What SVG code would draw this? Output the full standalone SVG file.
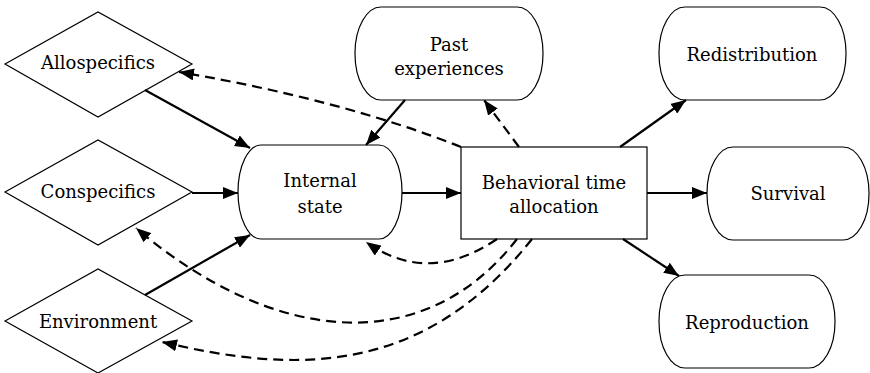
<svg xmlns="http://www.w3.org/2000/svg" width="870" height="373" viewBox="0 0 870 373">
<style>
.n{fill:#fff;stroke:#000;stroke-width:1.2}
.t{font-family:'DejaVu Serif',serif;font-size:18px;text-anchor:middle;fill:#000}
.c{fill:none;stroke:#000;stroke-width:2.2}
.d{fill:none;stroke:#000;stroke-width:2.2;stroke-dasharray:10,6}
</style>
<defs>
<marker id="ah" markerUnits="userSpaceOnUse" markerWidth="16" markerHeight="12" refX="15" refY="6" orient="auto">
<path d="M0,0 L15,6 L0,12 z" fill="#000"/>
</marker>
</defs>
<g id="allospecifics"><polygon class="n" points="5,64 98,12 192,64 98,117"/><text class="t" x="98" y="69">Allospecifics</text></g>
<g id="conspecifics"><polygon class="n" points="5,192 98,140 192,192 98,245"/><text class="t" x="98" y="198">Conspecifics</text></g>
<g id="environment"><polygon class="n" points="5,321 98,269 192,321 98,373"/><text class="t" x="98" y="328">Environment</text></g>
<g id="internal"><rect class="n" x="238" y="145" width="164" height="94" rx="23" ry="47"/><text class="t" x="320" y="187">Internal</text><text class="t" x="320" y="213">state</text></g>
<g id="past"><rect class="n" x="355" y="7" width="188" height="93" rx="26" ry="46"/><text class="t" x="449" y="51">Past</text><text class="t" x="449" y="75">experiences</text></g>
<g id="behavior"><rect class="n" x="461" y="147" width="186" height="92"/><text class="t" x="554" y="189">Behavioral time</text><text class="t" x="554" y="213">allocation</text></g>
<g id="redistribution"><rect class="n" x="659" y="7" width="187" height="93" rx="26" ry="46"/><text class="t" x="752" y="61">Redistribution</text></g>
<g id="survival"><rect class="n" x="707" y="147" width="162" height="93" rx="26" ry="46"/><text class="t" x="788" y="200">Survival</text></g>
<g id="reproduction"><rect class="n" x="659" y="275" width="176" height="93" rx="26" ry="46"/><text class="t" x="747" y="329">Reproduction</text></g>
<g id="connectors">
<line class="c" x1="145" y1="90" x2="250" y2="148" marker-end="url(#ah)"/>
<line class="c" x1="192" y1="193" x2="238" y2="193" marker-end="url(#ah)"/>
<line class="c" x1="145" y1="295" x2="250" y2="235" marker-end="url(#ah)"/>
<line class="c" x1="405" y1="100" x2="366" y2="145" marker-end="url(#ah)"/>
<line class="c" x1="402" y1="193" x2="461" y2="193" marker-end="url(#ah)"/>
<line class="c" x1="620" y1="147" x2="686" y2="100" marker-end="url(#ah)"/>
<line class="c" x1="647" y1="193" x2="707" y2="193" marker-end="url(#ah)"/>
<line class="c" x1="623" y1="239" x2="679" y2="276" marker-end="url(#ah)"/>
<line class="d" x1="519" y1="147" x2="484" y2="100" marker-end="url(#ah)"/>
<path class="d" d="M461,147 Q343,100 179,72" marker-end="url(#ah)"/>
<path class="d" d="M497,239 Q428,286 366,242" marker-end="url(#ah)"/>
<path class="d" d="M517,239 C425,358 275,346 136,228" marker-end="url(#ah)"/>
<path class="d" d="M532,239 C420,380 290,372 162,342" marker-end="url(#ah)"/>
</g>
</svg>
